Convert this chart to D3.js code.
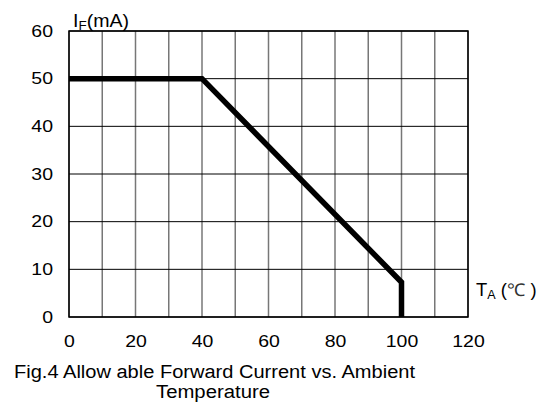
<!DOCTYPE html>
<html>
<head>
<meta charset="utf-8">
<script src="https://cdn.jsdelivr.net/npm/d3@7"></script>
<style>
  body { margin: 0; background: #fff; }
  text { font-family: "Liberation Sans", Arial, sans-serif; fill: #000; }
</style>
</head>
<body>
<div id="chart"></div>
<script>
// derating curve
var temp_vals = [0, 40, 100, 100]
var current_vals = [50, 50, 7.3, 0]
var x_ticks = [0, 20, 40, 60, 80, 100, 120]
var y_ticks = [0, 10, 20, 30, 40, 50, 60]
var x_grid = d3.range(0, 130, 10)

const MARGIN = { LEFT: 69, RIGHT: 79, TOP: 31, BOTTOM: 88 }
const W = 547, H = 405
const width = W - MARGIN.LEFT - MARGIN.RIGHT
const height = H - MARGIN.TOP - MARGIN.BOTTOM
const STRETCH = 1.18   // the original lettering is a bit wide

const svg = d3.select("#chart").append("svg")
    .attr("width", W)
    .attr("height", H)
const g = svg.append("g")
    .attr("transform", "translate(" + MARGIN.LEFT + "," + MARGIN.TOP + ")")

var xScale = d3.scaleLinear().domain([0, 120]).range([0, width])
var yScale = d3.scaleLinear().domain([0, 60]).range([height, 0])

// grid: vertical gray, horizontal black
g.selectAll(".vgrid").data(x_grid).enter().append("line")
    .attr("x1", d => xScale(d)).attr("x2", d => xScale(d))
    .attr("y1", 0).attr("y2", height)
    .style("stroke", "#777").style("stroke-width", 1.5)
g.selectAll(".hgrid").data(y_ticks).enter().append("line")
    .attr("x1", 0).attr("x2", width)
    .attr("y1", d => yScale(d)).attr("y2", d => yScale(d))
    .style("stroke", "#000").style("stroke-width", 1)
g.append("rect")
    .attr("width", width).attr("height", height)
    .style("fill", "none").style("stroke", "#000").style("stroke-width", 1.5)

// axes (labels only)
var xAxis = g.append("g")
    .attr("transform", "translate(0," + height + ")")
    .call(d3.axisBottom(xScale).tickValues(x_ticks).tickSize(0).tickPadding(18))
var yAxis = g.append("g")
    .call(d3.axisLeft(yScale).tickValues(y_ticks).tickSize(0).tickPadding(16))
;[xAxis, yAxis].forEach(a => {
    a.select(".domain").remove()
    a.selectAll("text")
        .style("font-size", "16.5px")
        .style("font-family", "Liberation Sans, Arial, sans-serif")
        .attr("transform", "scale(" + STRETCH + ",1)")
})
yAxis.selectAll("text").attr("x", -16 / STRETCH)

// curve
var line = d3.line().x(d => xScale(d)).y((d, i) => yScale(current_vals[i]))
g.append("path")
    .datum(temp_vals)
    .attr("d", line)
    .style("fill", "none")
    .style("stroke", "#000")
    .style("stroke-width", 5.5)
    .style("stroke-linejoin", "miter")

// axis titles
var yt = svg.append("text")
    .attr("transform", "translate(73,27) scale(1.12,1)")
    .style("font-size", "17.5px")
yt.append("tspan").text("I")
yt.append("tspan").text("F").attr("dy", 3).style("font-size", "12px")
yt.append("tspan").text("(mA)").attr("dy", -3)

var xt = svg.append("text")
    .attr("transform", "translate(476,296) scale(1.05,1)")
    .style("font-size", "17.5px")
xt.append("tspan").text("T")
xt.append("tspan").text("A").attr("dy", 3).style("font-size", "12px")
xt.append("tspan").text(" (").attr("dy", -3)
xt.append("tspan").text("\u2103").style("font-weight", "300").style("fill", "#333")
xt.append("tspan").text(" )")

// caption
svg.append("text").attr("x", 14).attr("y", 378)
    .style("font-size", "18px")
    .attr("textLength", 401).attr("lengthAdjust", "spacingAndGlyphs")
    .text("Fig.4  Allow able Forward Current vs. Ambient")
svg.append("text").attr("x", 156).attr("y", 398)
    .style("font-size", "18px")
    .attr("textLength", 114).attr("lengthAdjust", "spacingAndGlyphs")
    .text("Temperature")
</script>
</body>
</html>
